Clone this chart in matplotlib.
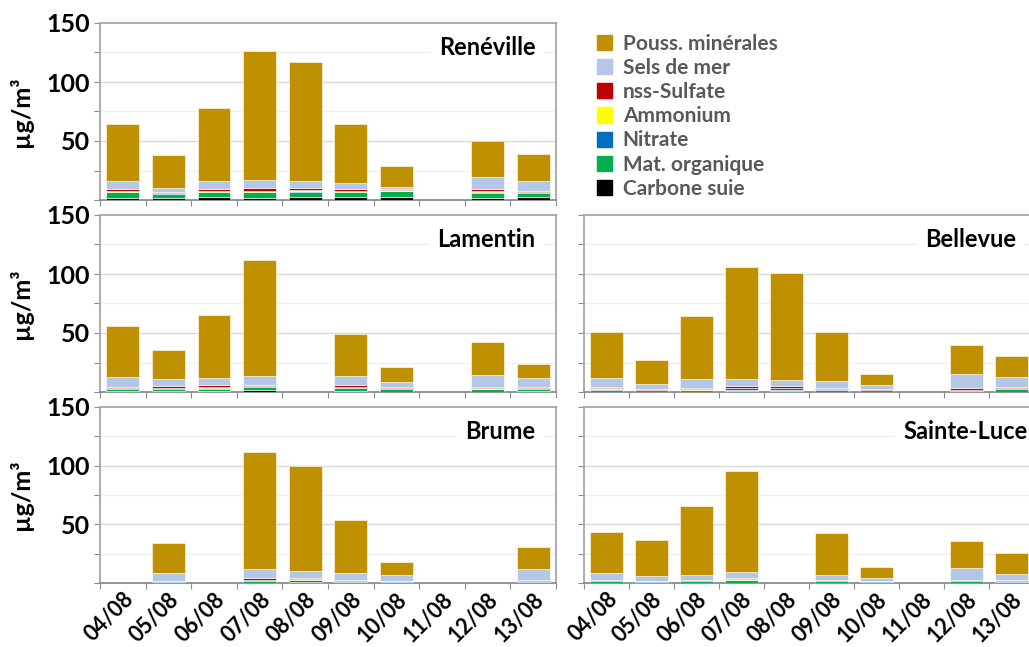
import matplotlib
matplotlib.use("Agg")
import matplotlib.pyplot as plt
import matplotlib.transforms as mtransforms
from matplotlib.patches import Rectangle
import numpy as np

plt.rcParams['font.family'] = ['Lato', 'DejaVu Sans']
plt.rcParams['font.weight'] = 'bold'

dates = ["04/08", "05/08", "06/08", "07/08", "08/08",
         "09/08", "10/08", "11/08", "12/08", "13/08"]

# stacking order, bottom to top
components = ["Carbone suie", "Mat. organique", "Nitrate", "Ammonium",
              "nss-Sulfate", "Sels de mer", "Pouss. minérales"]
colors = ["#000000", "#00B050", "#0070C0", "#FFFF00",
          "#C00000", "#B4C7E7", "#BF9000"]

# rows follow `components`, columns follow `dates` (µg/m3)
reneville = [
    [2.0, 1.6, 2.7, 2.1, 2.7, 2.7, 2.7, 0, 1.6, 2.7],
    [4.5, 3.6, 4.0, 4.6, 4.0, 4.0, 4.8, 0, 4.4, 3.3],
    [0.5, 0.5, 0.5, 0.5, 1.0, 0.5, 0.5, 0, 1.2, 0.5],
    [0.5, 0.4, 0.5, 0.5, 0.5, 0.5, 0.3, 0, 0.6, 0.5],
    [1.5, 1.0, 1.3, 2.1, 1.6, 1.3, 0.7, 0, 1.2, 1.0],
    [7.0, 2.8, 6.7, 6.8, 5.9, 5.0, 2.2, 0, 10.4, 7.7],
    [48.5, 28.0, 62.3, 110.0, 101.0, 50.2, 17.8, 0, 30.6, 23.5],
]
lamentin = [
    [0.5, 0.5, 1.0, 1.4, 0, 0.8, 0.3, 0, 0.4, 1.0],
    [2.3, 2.3, 1.2, 2.8, 0, 2.2, 2.5, 0, 1.8, 1.8],
    [0.5, 0.6, 1.5, 0.5, 0, 1.2, 0.4, 0, 0.7, 0.5],
    [0.4, 0.4, 0.5, 0.5, 0, 0.4, 0.4, 0, 0.4, 0.4],
    [0.8, 1.2, 2.0, 1.0, 0, 1.0, 0.6, 0, 1.2, 0.8],
    [7.9, 5.7, 5.3, 7.0, 0, 7.6, 3.9, 0, 9.8, 7.0],
    [43.6, 25.0, 53.9, 98.3, 0, 35.7, 12.9, 0, 27.7, 12.1],
]
bellevue = [
    [0.3, 0.3, 0.3, 0.5, 0.5, 0.3, 0.3, 0, 0.3, 0.3],
    [1.7, 1.0, 1.3, 1.3, 1.3, 1.5, 1.0, 0, 0.3, 2.5],
    [0.7, 0.3, 0.5, 1.2, 1.2, 0.4, 0.3, 0, 1.1, 0.4],
    [0.3, 0.3, 0.3, 0.5, 0.5, 0.3, 0.3, 0, 0.4, 0.3],
    [1.0, 0.4, 0.7, 1.3, 1.3, 0.6, 0.4, 0, 1.0, 1.0],
    [7.6, 4.2, 7.6, 5.9, 5.4, 5.9, 3.3, 0, 11.9, 7.9],
    [39.4, 20.9, 53.7, 95.5, 90.4, 42.0, 9.4, 0, 24.5, 18.4],
]
brume = [
    [0, 0.2, 0, 0.3, 0.3, 0.5, 0.2, 0, 0, 0.2],
    [0, 0.8, 0, 1.6, 0.9, 0.8, 0.8, 0, 0, 1.0],
    [0, 0.3, 0, 0.6, 1.5, 0.5, 0.3, 0, 0, 0.3],
    [0, 0.3, 0, 0.4, 0.5, 0.3, 0.3, 0, 0, 0.6],
    [0, 0.4, 0, 1.3, 1.3, 0.7, 0.4, 0, 0, 0.7],
    [0, 6.1, 0, 7.8, 5.9, 5.9, 4.4, 0, 0, 9.2],
    [0, 25.8, 0, 99.8, 89.6, 45.3, 11.2, 0, 0, 18.5],
]
sainte_luce = [
    [0.2, 0.2, 0.2, 0.2, 0, 0.2, 0.2, 0, 0.2, 0.2],
    [1.2, 0.8, 1.2, 2.2, 0, 1.2, 0.8, 0, 1.2, 0.8],
    [0.4, 0.3, 0.4, 0.4, 0, 0.4, 0.3, 0, 0.4, 0.3],
    [0.3, 0.3, 0.3, 0.4, 0, 0.3, 0.3, 0, 0.3, 0.3],
    [0.7, 0.4, 0.7, 1.0, 0, 0.7, 0.4, 0, 0.7, 0.6],
    [5.9, 4.2, 3.7, 5.4, 0, 4.2, 2.2, 0, 10.1, 5.7],
    [34.6, 30.6, 58.7, 85.9, 0, 35.4, 9.6, 0, 23.3, 17.4],
]

W, H = 1029, 647
fig = plt.figure(figsize=(W / 100, H / 100), dpi=100)


def px_axes(x0, y0, x1, y1):
    return fig.add_axes([x0 / W, 1 - y1 / H, (x1 - x0) / W, (y1 - y0) / H])


def draw_panel(ax, data, title, tx, show_ylab, show_xlab):
    x = np.arange(len(dates))
    bottom = np.zeros(len(dates))
    for vals, c in zip(data, colors):
        vals = np.array(vals, dtype=float)
        ax.bar(x, vals, width=0.72, bottom=bottom, color=c,
               edgecolor="white", linewidth=0.4, zorder=3)
        bottom += vals
    ax.set_xlim(-0.5, len(dates) - 0.5)
    ax.set_ylim(0, 150)
    for y in [25, 75, 125]:
        ax.axhline(y, color="#efefef", lw=1, zorder=1)
    for y in [50, 100]:
        ax.axhline(y, color="#d9d9d9", lw=1, zorder=1)
    for s in ax.spines.values():
        s.set_color("#a6a6a6")
        s.set_linewidth(1.3)
    ax.spines["bottom"].set_color("#8c8c8c")
    ax.set_yticks(np.arange(0, 151, 25))
    if show_ylab:
        ax.set_yticklabels(["", "", "50", "", "100", "", "150"])
        ax.set_ylabel("µg/m³", fontsize=18, fontweight="bold", labelpad=10)
    else:
        ax.set_yticklabels([])
    ax.tick_params(axis="y", length=4, color="#8c8c8c", labelsize=18,
                   pad=3)
    ax.set_xticks(np.arange(len(dates) + 1) - 0.5)
    ax.set_xticklabels([])
    ax.tick_params(axis="x", which="major", length=4, color="#8c8c8c")
    ax.set_xticks(x, minor=True)
    if show_xlab:
        labs = ax.set_xticklabels(dates, minor=True, rotation=45, ha="right",
                                  rotation_mode="anchor", fontsize=15.5)
        shift = mtransforms.ScaledTranslation(8 / 100, 0, fig.dpi_scale_trans)
        for lab in labs:
            lab.set_transform(lab.get_transform() + shift)
    ax.tick_params(axis="x", which="minor", length=0, pad=4)
    ax.text(tx, 0.86, title, transform=ax.transAxes, ha="right",
            va="center", fontsize=17, fontweight="bold", zorder=5,
            bbox=dict(facecolor="white", edgecolor="none", pad=6))


ax1 = px_axes(100, 23, 556, 200)
ax2 = px_axes(100, 215, 556, 392)
ax3 = px_axes(100, 407, 556, 583)
ax4 = px_axes(584, 215, 1034, 392)
ax5 = px_axes(584, 407, 1034, 583)

draw_panel(ax1, reneville, "Renéville", 0.955, True, False)
draw_panel(ax2, lamentin, "Lamentin", 0.955, True, False)
draw_panel(ax3, brume, "Brume", 0.955, True, True)
draw_panel(ax4, bellevue, "Bellevue", 0.96, False, False)
draw_panel(ax5, sainte_luce, "Sainte-Luce", 0.985, False, True)

handles = [Rectangle((0, 0), 1, 1, color=c) for c in colors[::-1]]
fig.legend(handles, components[::-1], loc="upper left",
           bbox_to_anchor=(578 / W, 1 - 15 / H), frameon=False,
           handlelength=0.75, handleheight=0.75,
           handletextpad=0.5, labelspacing=0.2, labelcolor="#595959",
           prop={"weight": "bold", "size": 15})

fig.savefig("out.png", dpi=100)
